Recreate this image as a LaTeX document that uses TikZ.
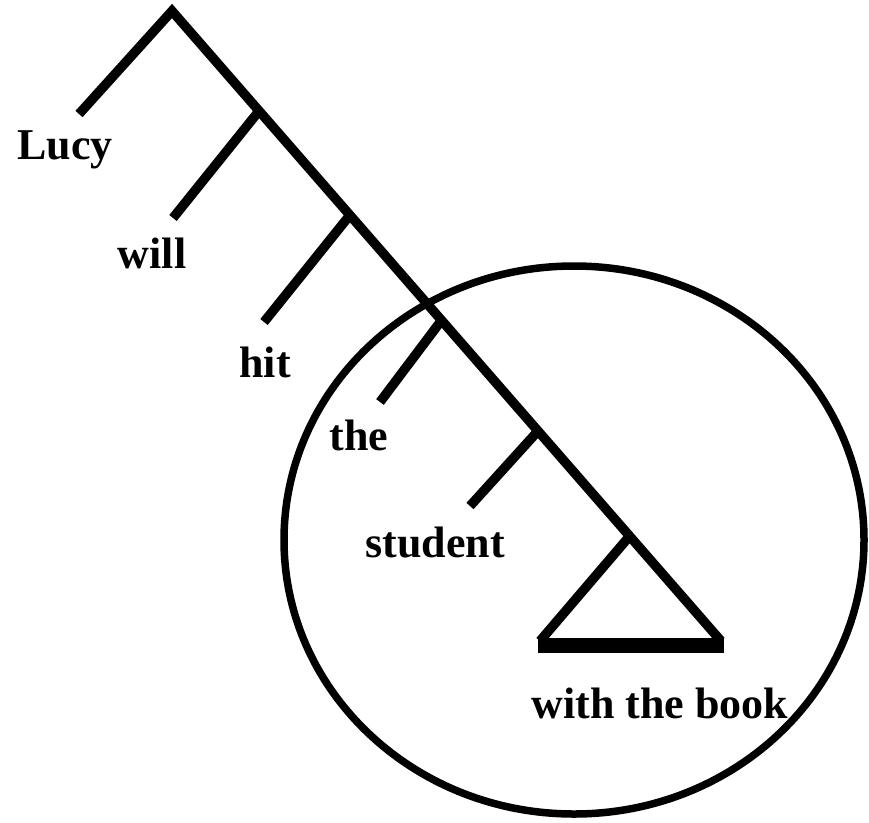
\documentclass[tikz,border=0pt]{standalone}
\usepackage{fontspec}
\setmainfont{Liberation Serif}
\begin{document}
\begin{tikzpicture}[x=1pt,y=-1pt,
  branch/.style={line width=9.5pt,line cap=butt},
  word/.style={anchor=base,inner sep=0pt,font=\fontsize{44}{50}\selectfont\bfseries}]
\useasboundingbox (0,0) rectangle (869,822);
% ellipse
\draw[line width=7.5pt] (574,540) ellipse [x radius=290, y radius=274];
% coordinates
\coordinate (apex) at (172,11);
\coordinate (j1) at (259,111);
\coordinate (j2) at (350,215);
\coordinate (j3) at (441,321);
\coordinate (j4) at (538,431);
\coordinate (j5) at (628,538);
\coordinate (mend) at (721,641);
\coordinate (lucyend) at (79,114);
\coordinate (willend) at (173,218);
\coordinate (hitend) at (264,322);
\coordinate (theend) at (380,402);
\coordinate (studentend) at (470,506);
\coordinate (tl) at (540,641);
% labels
\node[word] (lucy) at (65,159) {Lucy};
\node[word] (will) at (152,268) {will};
\node[word] (hit) at (265,377) {hit};
\node[word] (the) at (359,450) {the};
\node[word] (student) at (435,557) {student};
\node[word] (book) at (660,718) {with the book};
% tree
\draw[branch,line join=miter] (lucyend) -- (apex) -- (mend);
\draw[branch] (j1) -- (willend);
\draw[branch] (j2) -- (hitend);
\draw[branch] (j3) -- (theend);
\draw[branch] (j4) -- (studentend);
\draw[branch] (j5) -- (tl);
\draw[line width=15pt] ([xshift=-2pt,yshift=-4.5pt]tl) -- ([xshift=3pt,yshift=-4.5pt]mend);
\end{tikzpicture}
\end{document}
